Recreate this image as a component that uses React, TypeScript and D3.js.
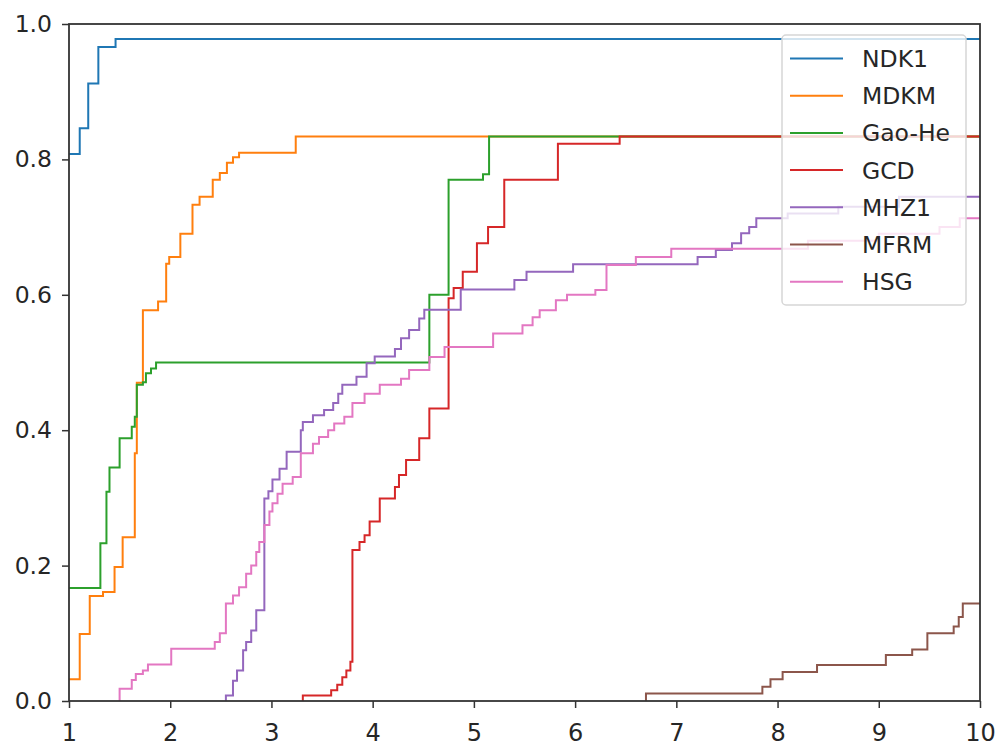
import * as d3 from "d3";
import React, { useEffect, useRef } from "react";

// step curves, x = where each step starts, y = value after the step
const ndk1X = [1.0, 1.106, 1.19, 1.29, 1.46];
const ndk1Y = [0.808, 0.846, 0.912, 0.966, 0.978];

const mdkmX = [1.0, 1.106, 1.205, 1.336, 1.45, 1.53, 1.65, 1.67, 1.73, 1.88, 1.96, 1.99, 2.1, 2.22, 2.29, 2.42, 2.49, 2.56, 2.62, 2.68, 3.24];
const mdkmY = [0.032, 0.099, 0.155, 0.161, 0.198, 0.242, 0.366, 0.47, 0.577, 0.59, 0.646, 0.656, 0.69, 0.733, 0.745, 0.77, 0.78, 0.795, 0.803, 0.81, 0.834];

const gaoHeX = [1.0, 1.31, 1.37, 1.4, 1.5, 1.62, 1.65, 1.67, 1.73, 1.76, 1.81, 1.86, 4.56, 4.75, 5.09, 5.15];
const gaoHeY = [0.167, 0.233, 0.309, 0.345, 0.388, 0.405, 0.42, 0.467, 0.471, 0.484, 0.491, 0.5, 0.6, 0.77, 0.778, 0.834];

const gcdX = [3.31, 3.31, 3.59, 3.65, 3.7, 3.74, 3.78, 3.8, 3.87, 3.92, 3.97, 4.07, 4.22, 4.26, 4.33, 4.46, 4.56, 4.75, 4.8, 4.89, 5.03, 5.14, 5.3, 5.83, 6.44];
const gcdY = [0, 0.008, 0.016, 0.024, 0.035, 0.045, 0.058, 0.223, 0.235, 0.245, 0.265, 0.299, 0.316, 0.334, 0.356, 0.388, 0.432, 0.595, 0.61, 0.634, 0.676, 0.7, 0.77, 0.823, 0.834];

const mhz1X = [2.55, 2.55, 2.62, 2.66, 2.72, 2.75, 2.8, 2.85, 2.93, 2.97, 3.01, 3.08, 3.15, 3.29, 3.31, 3.41, 3.52, 3.61, 3.66, 3.7, 3.84, 3.94, 4.02, 4.22, 4.28, 4.36, 4.46, 4.51, 4.87, 5.4, 5.52, 5.98, 7.21, 7.39, 7.55, 7.64, 7.72, 7.79, 8.1, 8.6, 9.2];
const mhz1Y = [0, 0.008, 0.03, 0.045, 0.075, 0.087, 0.104, 0.134, 0.299, 0.31, 0.327, 0.343, 0.368, 0.4, 0.412, 0.422, 0.43, 0.44, 0.454, 0.467, 0.479, 0.499, 0.509, 0.52, 0.536, 0.548, 0.565, 0.578, 0.608, 0.622, 0.634, 0.645, 0.656, 0.666, 0.676, 0.691, 0.7, 0.713, 0.72, 0.73, 0.745];

const mfrmX = [6.7, 6.7, 7.85, 7.93, 8.05, 8.39, 9.07, 9.33, 9.48, 9.74, 9.79, 9.83];
const mfrmY = [0, 0.011, 0.021, 0.032, 0.043, 0.053, 0.068, 0.076, 0.1, 0.11, 0.124, 0.144];

const hsgX = [1.5, 1.5, 1.62, 1.66, 1.73, 1.78, 2.01, 2.44, 2.49, 2.55, 2.62, 2.68, 2.75, 2.8, 2.85, 2.88, 2.93, 2.98, 3.01, 3.06, 3.11, 3.21, 3.29, 3.41, 3.47, 3.56, 3.62, 3.72, 3.8, 3.92, 4.07, 4.28, 4.36, 4.56, 4.71, 5.19, 5.48, 5.58, 5.65, 5.81, 5.92, 6.2, 6.31, 6.6, 6.95, 8.3, 9.0, 9.6, 9.8];
const hsgY = [0, 0.018, 0.031, 0.04, 0.045, 0.054, 0.077, 0.087, 0.1, 0.144, 0.156, 0.168, 0.188, 0.2, 0.22, 0.235, 0.26, 0.28, 0.292, 0.306, 0.321, 0.331, 0.366, 0.38, 0.39, 0.4, 0.41, 0.42, 0.44, 0.454, 0.467, 0.476, 0.489, 0.508, 0.523, 0.543, 0.555, 0.567, 0.577, 0.592, 0.6, 0.607, 0.644, 0.656, 0.668, 0.68, 0.69, 0.7, 0.713];

const seriesNames = ["NDK1", "MDKM", "Gao-He", "GCD", "MHZ1", "MFRM", "HSG"];
const seriesX = [ndk1X, mdkmX, gaoHeX, gcdX, mhz1X, mfrmX, hsgX];
const seriesY = [ndk1Y, mdkmY, gaoHeY, gcdY, mhz1Y, mfrmY, hsgY];
const colors = ["#1f77b4", "#ff7f0e", "#2ca02c", "#d62728", "#9467bd", "#8c564b", "#e377c2"];

const xTicks = [1, 2, 3, 4, 5, 6, 7, 8, 9, 10];
const yTicks = [0, 0.2, 0.4, 0.6, 0.8, 1.0];

export default function App() {
  const ref = useRef<SVGSVGElement | null>(null);

  useEffect(() => {
    const svg = d3.select(ref.current);
    svg.selectAll("*").remove();

    const width = 1000;
    const height = 749;
    const margin = { top: 24, right: 20, bottom: 48, left: 69 };
    const font = "'DejaVu Sans', sans-serif";

    const x = d3.scaleLinear().domain([1, 10]).range([margin.left, width - margin.right]);
    const y = d3.scaleLinear().domain([0, 1]).range([height - margin.bottom, margin.top]);

    svg.attr("width", width).attr("height", height).attr("viewBox", `0 0 ${width} ${height}`);

    svg.append("defs").append("clipPath").attr("id", "plot-clip")
      .append("rect")
      .attr("x", margin.left).attr("y", margin.top)
      .attr("width", width - margin.left - margin.right)
      .attr("height", height - margin.top - margin.bottom);

    const line = d3.line<[number, number]>()
      .x((d) => x(d[0]))
      .y((d) => y(d[1]))
      .curve(d3.curveStepAfter);

    const lines = svg.append("g").attr("clip-path", "url(#plot-clip)");
    seriesNames.forEach((name, i) => {
      const pts: [number, number][] = seriesX[i].map((v, j) => [v, seriesY[i][j]]);
      pts.push([x.domain()[1], seriesY[i][seriesY[i].length - 1]]);
      lines.append("path")
        .datum(pts)
        .attr("fill", "none")
        .attr("stroke", colors[i])
        .attr("stroke-width", 2)
        .attr("d", line);
    });

    // axes
    const xAxis = svg.append("g")
      .attr("transform", `translate(0,${height - margin.bottom})`)
      .call(d3.axisBottom(x).tickValues(xTicks).tickSize(7).tickPadding(16).tickFormat(d3.format("d")));
    const yAxis = svg.append("g")
      .attr("transform", `translate(${margin.left},0)`)
      .call(d3.axisLeft(y).tickValues(yTicks).tickSize(7).tickPadding(10).tickFormat(d3.format(".1f")));

    [xAxis, yAxis].forEach((ax) => {
      ax.select(".domain").remove();
      ax.selectAll("line").attr("stroke", "#333").attr("stroke-width", 1.5);
      ax.selectAll("text").attr("font-family", font).attr("fill", "#262626");
    });
    xAxis.selectAll("text").attr("font-size", 24);
    yAxis.selectAll("text").attr("font-size", 23.5);

    svg.append("rect")
      .attr("x", margin.left).attr("y", margin.top)
      .attr("width", width - margin.left - margin.right)
      .attr("height", height - margin.top - margin.bottom)
      .attr("fill", "none")
      .attr("stroke", "#333")
      .attr("stroke-width", 1.8);

    // legend
    const lg = svg.append("g").attr("transform", `translate(782,35)`);
    lg.append("rect")
      .attr("width", 184).attr("height", 270)
      .attr("rx", 4)
      .attr("fill", "white").attr("fill-opacity", 0.8)
      .attr("stroke", "#d6d6d6").attr("stroke-width", 1.5);
    seriesNames.forEach((name, i) => {
      const cy = 23.5 + i * 37.2;
      lg.append("line")
        .attr("x1", 8).attr("x2", 61)
        .attr("y1", cy).attr("y2", cy)
        .attr("stroke", colors[i]).attr("stroke-width", 2);
      lg.append("text")
        .attr("x", 80).attr("y", cy)
        .attr("dy", "0.36em")
        .attr("font-family", font).attr("font-size", 23.5)
        .attr("fill", "#262626")
        .text(name);
    });
  }, []);

  return <svg ref={ref} style={{ position: "absolute", left: 0, top: 0, background: "white" }} />;
}
